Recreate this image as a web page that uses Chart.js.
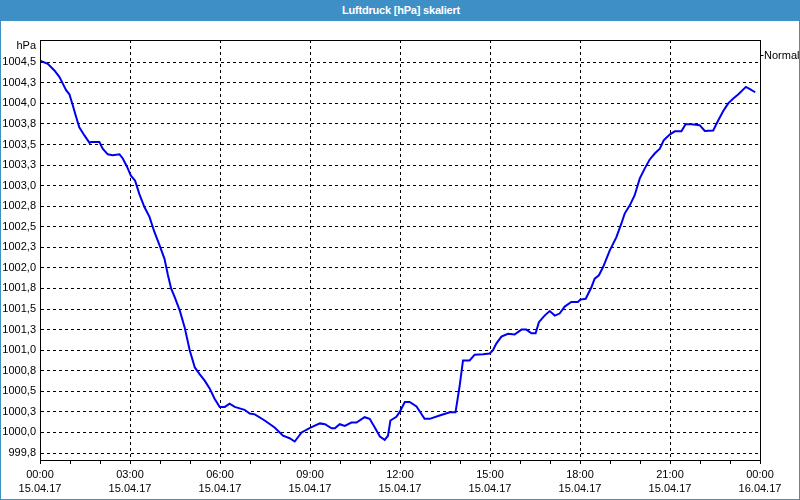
<!DOCTYPE html>
<html>
<head>
<meta charset="utf-8">
<script src="https://cdn.jsdelivr.net/npm/chart.js@4/dist/chart.umd.min.js"></script>
<style>
  html, body { margin: 0; padding: 0; background: #ffffff; }
  #frame { position: relative; width: 800px; height: 500px; box-sizing: border-box; border: 1px solid #3d8fc6; border-top: none; overflow: hidden; background: #ffffff; }
  #titlebar { position: absolute; left: 0; top: 0; width: 800px; height: 21px; background: #3d8fc6; color: #ffffff; font: bold 11px "Liberation Sans", Arial, sans-serif; line-height: 21px; text-align: center; letter-spacing: -0.2px; }
  #c { position: absolute; left: -1px; top: 0; }
</style>
</head>
<body>
<div id="frame">
  <canvas id="c" width="800" height="500"></canvas>
  <div id="titlebar">Luftdruck [hPa] skaliert</div>
</div>
<script>
// ---- data (hours since 15.04.17 00:00, pressure in hPa) ----
const timeHours = [0.0,0.26,0.48,0.65,0.76,0.87,0.98,1.09,1.2,1.31,1.48,1.65,1.7,1.98,2.09,2.26,2.42,2.65,2.76,2.9,3.03,3.17,3.31,3.48,3.65,3.81,3.98,4.15,4.26,4.37,4.49,4.66,4.82,4.99,5.16,5.32,5.49,5.66,5.82,5.99,6.16,6.32,6.49,6.82,6.99,7.16,7.49,7.82,8.1,8.32,8.49,8.72,9.0,9.33,9.5,9.72,9.83,9.99,10.16,10.38,10.55,10.82,10.99,11.16,11.33,11.49,11.6,11.68,11.88,11.99,12.16,12.32,12.55,12.82,12.99,13.32,13.66,13.85,13.99,14.1,14.32,14.49,14.77,14.99,15.1,15.21,15.38,15.6,15.82,16.05,16.21,16.38,16.52,16.63,16.82,16.99,17.16,17.32,17.49,17.71,17.93,18.01,18.19,18.38,18.49,18.63,18.77,18.88,18.99,19.21,19.38,19.49,19.66,19.82,19.99,20.16,20.32,20.49,20.66,20.79,20.99,21.16,21.38,21.52,21.71,21.99,22.16,22.44,22.61,22.78,22.94,23.11,23.28,23.53,23.68,23.84];
const pressure = [1004.52,1004.48,1004.40,1004.32,1004.24,1004.16,1004.11,1003.98,1003.84,1003.71,1003.61,1003.52,1003.53,1003.53,1003.45,1003.38,1003.37,1003.38,1003.33,1003.23,1003.12,1003.06,1002.90,1002.74,1002.62,1002.44,1002.28,1002.11,1001.92,1001.75,1001.645,1001.48,1001.28,1001.00,1000.79,1000.71,1000.63,1000.53,1000.41,1000.31,1000.31,1000.35,1000.31,1000.275,1000.23,1000.22,1000.145,1000.06,999.96,999.93,999.89,1000.00,1000.056,1000.11,1000.10,1000.05,1000.05,1000.10,1000.08,1000.12,1000.12,1000.185,1000.165,1000.06,999.95,999.91,999.96,1000.145,1000.19,1000.25,1000.37,1000.37,1000.315,1000.165,1000.165,1000.205,1000.245,1000.245,1000.57,1000.875,1000.875,1000.945,1000.95,1000.96,1001.00,1001.08,1001.165,1001.20,1001.19,1001.25,1001.25,1001.205,1001.205,1001.34,1001.42,1001.475,1001.42,1001.445,1001.53,1001.585,1001.585,1001.615,1001.625,1001.765,1001.87,1001.91,1002.01,1002.11,1002.21,1002.37,1002.54,1002.66,1002.76,1002.88,1003.085,1003.21,1003.315,1003.39,1003.45,1003.55,1003.62,1003.66,1003.66,1003.745,1003.745,1003.735,1003.665,1003.67,1003.795,1003.91,1004.00,1004.06,1004.11,1004.20,1004.17,1004.135];

const yTickValues = [999.75,1000.0,1000.25,1000.5,1000.75,1001.0,1001.25,1001.5,1001.75,1002.0,1002.25,1002.5,1002.75,1003.0,1003.25,1003.5,1003.75,1004.0,1004.25,1004.5];
const yTickLabels = ["999,8","1000,0","1000,3","1000,5","1000,8","1001,0","1001,3","1001,5","1001,8","1002,0","1002,3","1002,5","1002,8","1003,0","1003,3","1003,5","1003,8","1004,0","1004,3","1004,5"];

const xTickHours = [0,1,2,3,4,5,6,7,8,9,10,11,12,13,14,15,16,17,18,19,20,21,22,23,24];
const xLabelHours = [0,3,6,9,12,15,18,21,24];
const xLabelTimes = ["00:00","03:00","06:00","09:00","12:00","15:00","18:00","21:00","00:00"];
const xLabelDates = ["15.04.17","15.04.17","15.04.17","15.04.17","15.04.17","15.04.17","15.04.17","15.04.17","16.04.17"];

const unitLabel = "hPa";
const seriesName = "Normal";

const FONT = '"Liberation Sans", Arial, sans-serif';

const decorPlugin = {
  id: 'decor',
  afterDraw(chart) {
    const {ctx, chartArea: a} = chart;
    ctx.save();
    // frame around plot
    ctx.strokeStyle = '#000';
    ctx.lineWidth = 1;
    ctx.setLineDash([]);
    ctx.strokeRect(Math.round(a.left) + 0.5, Math.round(a.top) + 0.5, Math.round(a.right - a.left), Math.round(a.bottom - a.top));
    // unit label
    ctx.fillStyle = '#000';
    ctx.font = '11px ' + FONT;
    ctx.textAlign = 'right';
    ctx.textBaseline = 'middle';
    ctx.fillText(unitLabel, a.left - 4, a.top + 6);
    // series legend at right
    const ly = a.top + 15;
    ctx.beginPath();
    ctx.moveTo(Math.round(a.right) + 0.5, ly + 0.5);
    ctx.lineTo(Math.round(a.right) + 3.5, ly + 0.5);
    ctx.stroke();
    ctx.textAlign = 'left';
    ctx.fillText(seriesName, a.right + 4, ly + 1);
    ctx.restore();
  }
};

new Chart(document.getElementById('c'), {
  type: 'line',
  data: {
    datasets: [{
      label: seriesName,
      data: timeHours.map((t, i) => ({x: t, y: pressure[i]})),
      borderColor: '#0000f0',
      borderWidth: 2,
      pointRadius: 0,
      tension: 0,
      fill: false
    }]
  },
  options: {
    responsive: false,
    animation: false,
    events: [],
    layout: { padding: { left: 0, right: 40, top: 40, bottom: 2 } },
    plugins: { legend: { display: false }, tooltip: { enabled: false }, title: { display: false } },
    scales: {
      x: {
        type: 'linear',
        min: 0, max: 24,
        afterBuildTicks(scale) { scale.ticks = xTickHours.map(v => ({value: v})); },
        afterFit(scale) { scale.height = 38; },
        grid: {
          color: (c) => (c.tick && c.tick.value % 3 === 0 && c.tick.value > 0 && c.tick.value < 24) ? '#000' : 'rgba(0,0,0,0)',
          tickColor: '#000',
          tickLength: 4,
          lineWidth: 1
        },
        border: { display: true, color: '#000', width: 1, dash: [3, 3] },
        ticks: {
          autoSkip: false,
          maxRotation: 0,
          padding: 3,
          color: '#000',
          font: { family: FONT, size: 11, lineHeight: 1.36 },
          callback: (v) => {
            const k = xLabelHours.indexOf(v);
            return k >= 0 ? [xLabelTimes[k], xLabelDates[k]] : '';
          }
        }
      },
      y: {
        type: 'linear',
        min: 999.665, max: 1004.77,
        afterBuildTicks(scale) { scale.ticks = yTickValues.map(v => ({value: v})); },
        afterFit(scale) { scale.width = 40; },
        grid: { color: '#000', lineWidth: 1, drawTicks: false },
        border: { display: true, color: '#000', width: 1, dash: [3, 3] },
        ticks: {
          padding: 4,
          color: '#000',
          font: { family: FONT, size: 11 },
          callback: (v) => {
            const k = yTickValues.findIndex(t => Math.abs(t - v) < 1e-6);
            return k >= 0 ? yTickLabels[k] : '';
          }
        }
      }
    }
  },
  plugins: [decorPlugin]
});
</script>
</body>
</html>
